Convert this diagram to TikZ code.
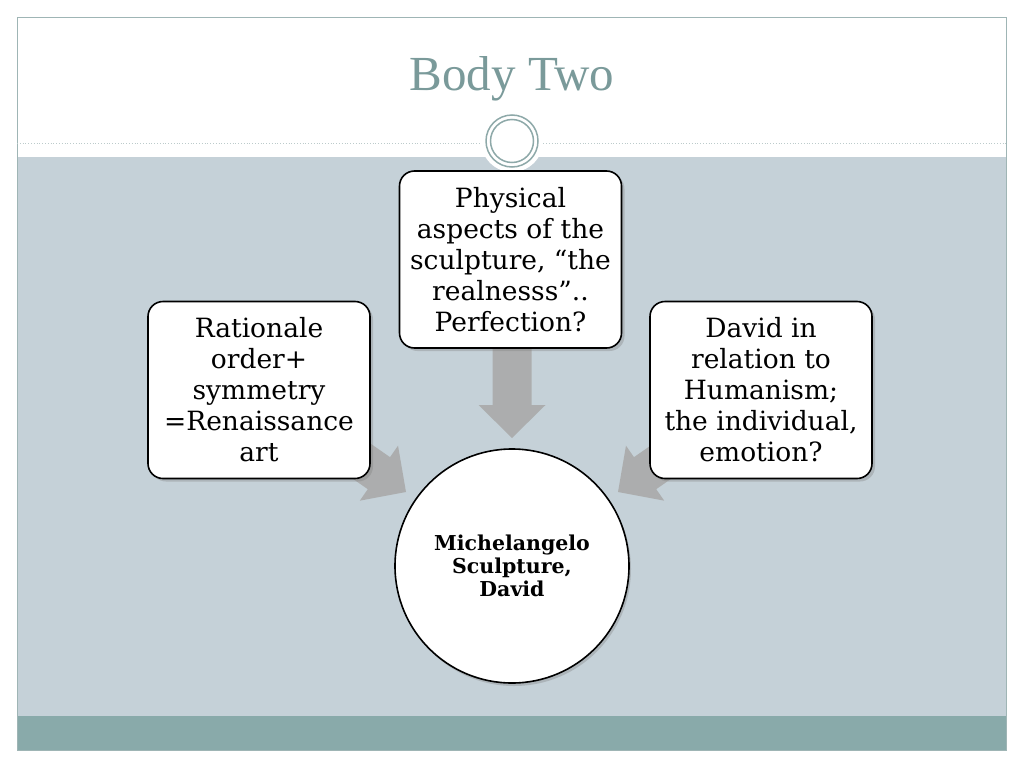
\documentclass[tikz,border=0pt]{standalone}
\usepackage{fontspec}
\setmainfont{DejaVu Serif}
\newfontfamily\titlefont{Liberation Serif}
\usetikzlibrary{shadows}
\definecolor{bgblue}{HTML}{C5D1D8}
\definecolor{band}{HTML}{89AAAA}
\definecolor{titlec}{HTML}{7A9A9A}
\definecolor{framec}{HTML}{9FB5B5}
\definecolor{arrowc}{HTML}{AAAAAA}
\tikzset{
  box/.style={draw=black, line width=1.6pt, fill=white, rounded corners=15pt,
    minimum width=222pt, minimum height=177pt, align=center, inner sep=2pt,
    font=\fontsize{26.5}{31}\selectfont,
    drop shadow={shadow xshift=3pt, shadow yshift=-3pt, opacity=0.35}},
  hub/.style={draw=black, line width=1.6pt, fill=white, circle, minimum size=234pt,
    align=center, font=\bfseries\fontsize{20.5}{23}\selectfont,
    drop shadow={shadow xshift=2pt, shadow yshift=-3pt, opacity=0.35}},
  bigarrow/.style={fill=arrowc, draw=none, fill opacity=0.9}
}
\begin{document}
\begin{tikzpicture}[x=1pt,y=1pt]
\useasboundingbox (0,0) rectangle (1024,-768);
\fill[white] (0,0) rectangle (1024,-768);
% backgrounds
\fill[bgblue] (17,-157) rectangle (1006,-716);
\fill[band] (17,-716) rectangle (1006,-750);
\draw[framec, line width=0.8pt] (17,-17) rectangle (1006,-750);
\draw[framec!70, line width=0.8pt, dotted] (17,-143) -- (1006,-143);
% title
\node (title) at (512,-79) {\titlefont\fontsize{49}{52}\selectfont\color{titlec}Body Two};
% ornament
\fill[white] (512,-141) circle (31);
\draw[titlec!85, line width=1.5pt] (512,-141) circle (26);
\draw[titlec!85, line width=1.5pt] (512,-141) circle (21.5);
% arrows
\foreach \tx/\ty/\ang in {512/438/-90, 406/492/-34.8, 618/492/-145.2}{
  \fill[bigarrow, shift={(\tx,-\ty)}, rotate=\ang]
    (0,0) -- (-33,33.5) -- (-33,19.5) -- (-100,19.5) -- (-100,-19.5) -- (-33,-19.5) -- (-33,-33.5) -- cycle;
}
% nodes
\node[box] (top) at (510.5,-259.5) {Physical\\aspects of the\\sculpture, “the\\realnesss”..\\Perfection?};
\node[box] (left) at (259,-390) {Rationale\\order+\\symmetry\\=Renaissance\\art};
\node[box] (right) at (761,-390) {David in\\relation to\\Humanism;\\the individual,\\emotion?};
\node[hub] (hub) at (512,-566) {Michelangelo\\Sculpture,\\David};
\end{tikzpicture}
\end{document}
